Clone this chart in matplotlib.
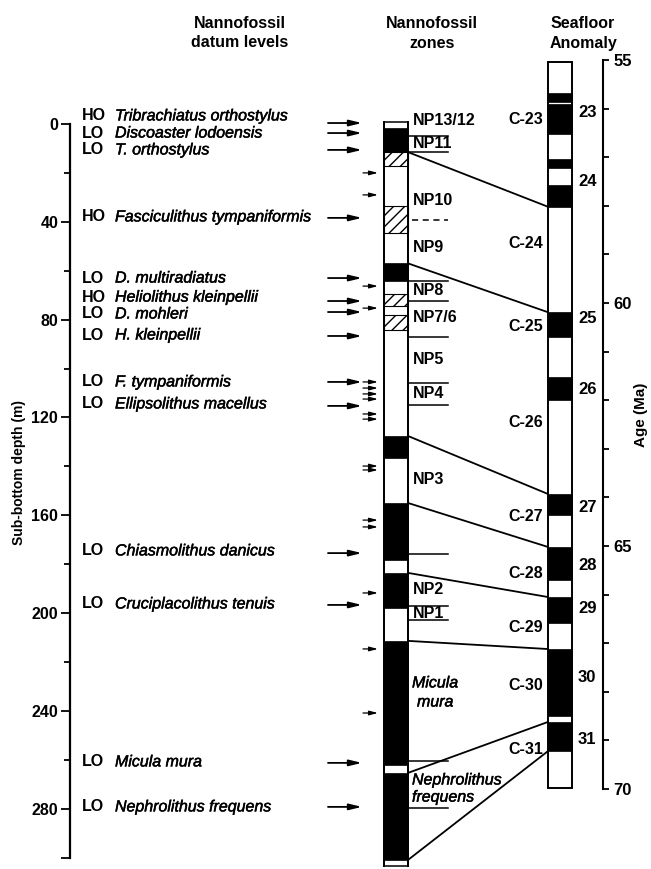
import matplotlib
matplotlib.use("Agg")
import matplotlib.pyplot as plt
from matplotlib.patches import Rectangle, ConnectionPatch
import matplotlib.patheffects as pe

plt.rcParams['font.family'] = ['Liberation Sans', 'DejaVu Sans']
plt.rcParams['hatch.linewidth'] = 1.0

# ---------------- data ----------------
depth_major = [0, 40, 80, 120, 160, 200, 240, 280]
depth_minor = [20, 60, 100, 140, 180, 220, 260]
age_ticks = list(range(55, 71))
age_labels = [55, 60, 65, 70]

datum_type = ["HO", "LO", "LO", "HO", "LO", "HO", "LO", "LO", "LO", "LO",
              "LO", "LO", "LO", "LO"]
datum_taxon = ["Tribrachiatus orthostylus", "Discoaster lodoensis", "T. orthostylus",
               "Fasciculithus tympaniformis", "D. multiradiatus", "Heliolithus kleinpellii",
               "D. mohleri", "H. kleinpellii", "F. tympaniformis", "Ellipsolithus macellus",
               "Chiasmolithus danicus", "Cruciplacolithus tenuis", "Micula mura",
               "Nephrolithus frequens"]
datum_depth = [-0.4, 3.7, 10.6, 38.4, 63.0, 72.4, 76.9, 86.7, 105.5, 115.3,
               175.5, 196.7, 261.3, 279.3]
datum_label_depth = [-3.3, 3.7, 10.6, 38.0, 63.0, 70.8, 77.7, 86.3, 105.5, 114.5,
                     174.6, 196.3, 260.9, 279.3]
sample_depth = [20.0, 29.0, 66.3, 75.3, 105.5, 108.0, 110.4, 112.5, 118.6, 120.7,
                139.9, 141.5, 162.0, 164.8, 191.8, 214.7, 240.9]

nanno_extent = (-0.8, 303.5)
nanno_black = [(1.6, 11.5), (57.0, 64.2), (127.6, 136.6), (155.0, 178.3),
               (183.6, 198.0), (211.4, 262.2), (265.4, 301.0)]
nanno_hatch = [(11.5, 17.2), (33.5, 44.6), (69.5, 74.4), (78.1, 84.3)]

zone_names = ["NP13/12", "NP11", "NP10", "NP9", "NP8", "NP7/6", "NP5", "NP4",
              "NP3", "NP2", "NP1"]
zone_label_depth = [-1.6, 7.8, 31.1, 50.7, 67.9, 79.3, 96.5, 110.4, 145.2, 190.2, 200.0]
zone_italic_lines = ["Micula", "mura", "Nephrolithus", "frequens"]
zone_italic_depth = [228.6, 236.4, 268.3, 275.3]
zone_italic_indent = [0, 5, 0, 0]
zone_lines = [4.9, 11.5, 64.2, 72.4, 87.1, 105.9, 114.9, 175.9, 197.1, 202.9, 260.5, 279.8]
zone_dashed = [39.3]

anom_extent = (55.04, 69.98)
anom_black = [(55.68, 55.86), (55.91, 56.52), (57.04, 57.22), (57.57, 58.02),
              (60.19, 60.70), (61.52, 62.00), (63.93, 64.36), (65.02, 65.70),
              (66.05, 66.58), (67.12, 68.50), (68.62, 69.22)]
anom_numbers = ["23", "24", "25", "26", "27", "28", "29", "30", "31"]
anom_number_age = [56.09, 57.51, 60.31, 61.77, 64.20, 65.41, 66.28, 67.70, 68.99]
chron_names = ["C-23", "C-24", "C-25", "C-26", "C-27", "C-28", "C-29", "C-30", "C-31"]
chron_age = [56.23, 58.77, 60.49, 62.45, 64.40, 65.56, 66.67, 67.88, 69.18]

tie_depth = [11.5, 57.0, 127.6, 155.0, 183.6, 211.4, 265.4, 301.0]
tie_age = [58.02, 60.19, 63.93, 65.02, 66.05, 67.12, 68.62, 69.22]

# ---------------- layout ----------------
W, H = 651, 869
fig = plt.figure(figsize=(W / 100, H / 100), dpi=100)
ax = fig.add_axes([0, 0, 1, 1])
ax.set_xlim(0, W)
# depth axis: y_pix = 124 + 2.445 * depth
ax.set_ylim((H - 124) / 2.445, -124 / 2.445)
ax2 = ax.twinx()
# age axis: y_pix = 60 + 48.6 * (age - 55)
ax2.set_ylim(55 + (H - 60) / 48.6, 55 - 60 / 48.6)

LW = 1.1
heavy = [pe.withStroke(linewidth=0.35, foreground="black")]

for s in ["top", "right", "bottom"]:
    ax.spines[s].set_visible(False)
ax.spines["left"].set_position(("data", 70))
ax.spines["left"].set_bounds(0, 300)
ax.spines["left"].set_linewidth(1.6)
ax.set_xticks([])
ax.set_yticks(depth_major + [300])
ax.set_yticklabels([str(v) for v in depth_major] + [""])
ax.set_yticks(depth_minor, minor=True)
ax.tick_params(axis="y", which="major", direction="out", length=6.5, width=1.3,
               pad=2, labelsize=11.5)
ax.tick_params(axis="y", which="minor", direction="out", length=4.5, width=1.3)
for t in ax.get_yticklabels():
    t.set_fontweight("bold")

for s in ["top", "left", "bottom"]:
    ax2.spines[s].set_visible(False)
ax2.spines["right"].set_position(("data", 603))
ax2.spines["right"].set_bounds(55, 70)
ax2.spines["right"].set_linewidth(1.5)
ax2.set_yticks(age_ticks)
ax2.set_yticklabels([str(a) if a in age_labels else "" for a in age_ticks])
ax2.tick_params(axis="y", which="major", direction="out", length=4.5, width=1.3,
                pad=3, labelsize=12)
for t in ax2.get_yticklabels():
    t.set_fontweight("bold")

# axis titles
ax.text(19, 142.5, "Sub-bottom depth (m)", rotation=90, ha="center", va="center",
        fontsize=10, fontweight="bold")
ax2.text(641, 62.3, "Age (Ma)", rotation=90, ha="center", va="center",
         fontsize=11, fontweight="bold")

# headers
hdr = dict(ha="center", va="center", fontsize=11.5, fontweight="bold")
ax.text(240, -41.3, "Nannofossil", **hdr)
ax.text(240, -33.5, "datum levels", **hdr)
ax.text(432, -41.3, "Nannofossil", **hdr)
ax.text(432, -33.1, "zones", **hdr)
ax.text(583, -41.3, "Seafloor", **hdr)
ax.text(583, -33.1, "Anomaly", **hdr)

# datum labels and arrows
for typ, tax, d_lab, d_arr in zip(datum_type, datum_taxon, datum_label_depth, datum_depth):
    ax.text(82, d_lab, typ, ha="left", va="center", fontsize=11.5, fontweight="bold")
    ax.text(115, d_lab, tax, ha="left", va="center", fontsize=11.5, style="italic",
            path_effects=heavy)
    ax.annotate("", xy=(362, d_arr), xytext=(328, d_arr),
                arrowprops=dict(arrowstyle="-|>,head_length=0.75,head_width=0.18",
                                lw=1.3, color="black", shrinkA=0, shrinkB=0,
                                mutation_scale=10))
for d in sample_depth:
    ax.annotate("", xy=(378, d), xytext=(363, d),
                arrowprops=dict(arrowstyle="-|>,head_length=0.5,head_width=0.13",
                                lw=0.9, color="black", shrinkA=0, shrinkB=0,
                                mutation_scale=10))

# nannofossil column
cx, cw = 384, 24
ax.add_patch(Rectangle((cx, nanno_extent[0]), cw, nanno_extent[1] - nanno_extent[0],
                       facecolor="white", edgecolor="black", lw=LW, zorder=2))
for a, b in nanno_black:
    ax.add_patch(Rectangle((cx, a), cw, b - a, facecolor="black", edgecolor="black",
                           lw=0.5, zorder=3))
for a, b in nanno_hatch:
    ax.add_patch(Rectangle((cx, a), cw, b - a, facecolor="white", edgecolor="black",
                           hatch="///", lw=0.8, zorder=3))
ax.plot([cx, cx], [nanno_extent[0], nanno_extent[1]], color="black", lw=1.4, zorder=4)
ax.plot([cx + cw, cx + cw], [nanno_extent[0], nanno_extent[1]], color="black", lw=1.4, zorder=4)

# zone labels / boundaries
for name, d in zip(zone_names, zone_label_depth):
    ax.text(413, d, name, ha="left", va="center", fontsize=11.5, fontweight="bold")
for txt, d, ind in zip(zone_italic_lines, zone_italic_depth, zone_italic_indent):
    ax.text(412 + ind, d, txt, ha="left", va="center", fontsize=11.5, style="italic",
            path_effects=heavy)
for d in zone_lines:
    ax.plot([cx + cw, 448], [d, d], color="black", lw=LW)
for d in zone_dashed:
    ax.plot([412, 448], [d, d], color="black", lw=LW, linestyle=(0, (4, 3)))

# anomaly column
axx, aw = 548, 24
ax2.add_patch(Rectangle((axx, anom_extent[0]), aw, anom_extent[1] - anom_extent[0],
                        facecolor="white", edgecolor="black", lw=1.4, zorder=2))
for a, b in anom_black:
    ax2.add_patch(Rectangle((axx, a), aw, b - a, facecolor="black", edgecolor="black",
                            lw=0.5, zorder=3))
for name, ag in zip(anom_numbers, anom_number_age):
    ax2.text(578, ag, name, ha="left", va="center", fontsize=12, fontweight="bold")
for name, ag in zip(chron_names, chron_age):
    ax2.text(543, ag, name, ha="right", va="center", fontsize=11.5, fontweight="bold")

# tie lines
for d, ag in zip(tie_depth, tie_age):
    con = ConnectionPatch(xyA=(cx + cw, d), coordsA=ax.transData,
                          xyB=(axx, ag), coordsB=ax2.transData,
                          color="black", lw=1.3)
    fig.add_artist(con)

fig.savefig("out.png", dpi=100)
